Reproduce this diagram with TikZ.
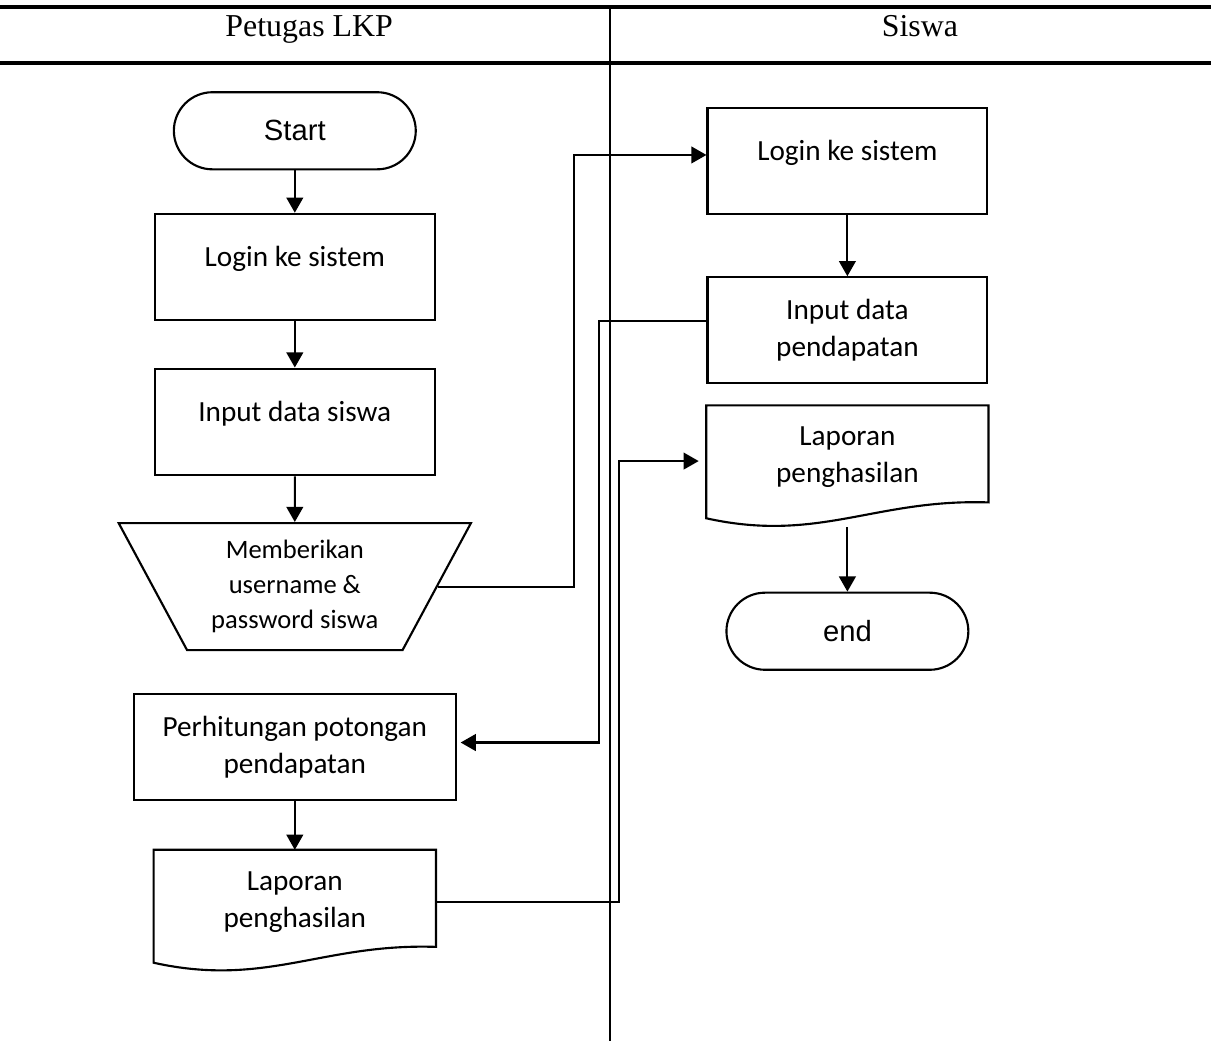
\documentclass[tikz,border=0pt]{standalone}
\usepackage{fontspec}
\setmainfont{Carlito}
\newfontfamily\hdrfont{Liberation Serif}
\newfontfamily\termfont{Liberation Sans}
\usetikzlibrary{positioning, arrows.meta, shapes.geometric}

\begin{document}
\begin{tikzpicture}[
  node distance=5.6mm,
  every node/.style={font=\fontsize{11pt}{13.9pt}\selectfont},
  box/.style={rectangle, draw, line width=0.8pt, minimum width=37mm,
              minimum height=14.1mm, align=center, inner sep=2pt},
  onebox/.style={box, text depth=8.1pt},
  term/.style={rectangle, rounded corners=5.1mm, draw, line width=0.8pt,
               minimum width=32mm, minimum height=10.2mm,
               font=\termfont\fontsize{11pt}{13pt}\selectfont},
  io/.style={trapezium, trapezium left angle=125, trapezium right angle=125,
             trapezium stretches body, draw, line width=0.8pt,
             minimum width=46.6mm, minimum height=16.8mm, align=center,
             inner sep=1pt, font=\fontsize{10pt}{13.1pt}\selectfont},
  doc/.style={rectangle, minimum width=37.2mm, minimum height=13.6mm,
              align=center, inner sep=2pt},
  hdr/.style={anchor=base, font=\hdrfont\fontsize{12pt}{14pt}\selectfont},
  lane/.style={line width=0.8pt},
  arr/.style={-{Triangle[length=2mm, width=2.2mm]}, line width=0.8pt}
]
\useasboundingbox (0,0) rectangle (160.2mm,-137.7mm);
% ── Lanes ──────────────────────────────────────
\draw[lane, line width=1.2pt] (0,-0.93mm) -- (160.2mm,-0.93mm);
\draw[lane, line width=1.2pt] (0,-8.33mm) -- (160.2mm,-8.33mm);
\draw[lane] (80.7mm,-0.93mm) -- (80.7mm,-137.7mm);
\coordinate (dv) at (80.7mm,0);
\node[hdr] (hL) at (40.9mm,-4.85mm) {Petugas LKP};
\node[hdr] (hR) at (121.7mm,-4.85mm) {Siswa};
% ── Petugas LKP ────────────────────────────────
\node[term] (st) at (39mm,-17.3mm) {Start};
\node[onebox, below=of st] (logL) {Login ke sistem};
\node[onebox, below=6.1mm of logL] (inL) {Input data siswa};
\node[io, below=6.05mm of inL] (trp) {Memberikan\\username \&\\password siswa};
\node[box, below=5.5mm of trp, minimum width=42.6mm] (hit) {Perhitungan potongan\\pendapatan};
\node[doc, below=6.4mm of hit] (lapL) {Laporan\\penghasilan};
\draw[arr] (st) -- (logL);
\draw[arr] (logL) -- (inL);
\draw[arr] (inL) -- (trp);
\draw[arr] (hit) -- (lapL);
% ── Siswa ──────────────────────────────────────
\node[onebox, minimum height=14mm] (logR) at (112.1mm,-21.3mm) {Login ke sistem};
\node[box, below=8.1mm of logR, minimum height=14mm] (inR) {Input data\\pendapatan};
\node[doc, below=2.8mm of inR] (lapR) {Laporan\\penghasilan};
\node[term, below=10.9mm of lapR] (end) {end};
\draw[arr] (logR) -- (inR);
\draw[arr, shorten <=2.4mm] (lapR) -- (end);
% document outline with wavy bottom
\foreach \n in {lapL, lapR}
  \draw[line width=0.8pt] (\n.north west) -- (\n.north east) -- ([yshift=0.9mm]\n.south east)
    .. controls ([xshift=22.3mm, yshift=1.4mm]\n.south west) and ([xshift=14.9mm, yshift=-4.5mm]\n.south west)
    .. ([yshift=-1.2mm]\n.south west) -- cycle;
% ── Across the lanes ───────────────────────────
\draw[arr] (trp.east) -| ([xshift=-4.8mm, yshift=0.8mm]dv |- logR.west) -- ([yshift=0.8mm]logR.west);
\draw[arr, shorten >=0.5mm] ([yshift=1.2mm]inR.west) -| ([xshift=-1.5mm, yshift=0.6mm]dv |- hit.east) -- ([yshift=0.6mm]hit.east);
\draw[arr, shorten >=1mm] (lapL.east) -| ([xshift=1.2mm, yshift=-0.5mm]dv |- lapR.west) -- ([yshift=-0.5mm]lapR.west);
\end{tikzpicture}
\end{document}
